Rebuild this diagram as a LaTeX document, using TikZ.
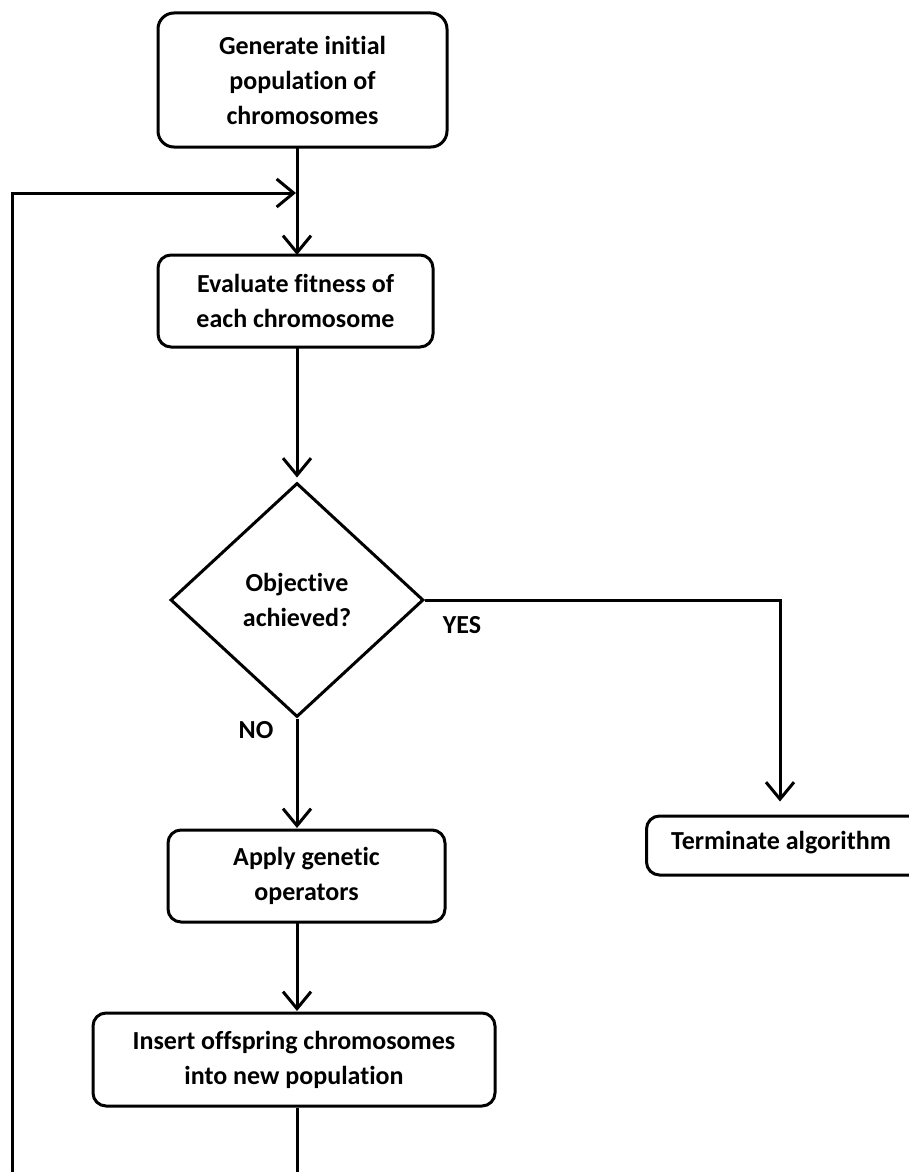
\documentclass[tikz,border=0pt]{standalone}
\usepackage{fontspec}
\setmainfont{Carlito}[Ligatures=NoCommon]
\usetikzlibrary{arrows.meta,shapes.geometric}
\tikzset{
  stepbox/.style={draw, line width=3pt, rounded corners=13pt, inner sep=0pt,
    align=center, font=\bfseries\fontsize{26}{35}\selectfont},
  decbox/.style={draw, diamond, line width=3pt, inner sep=0pt, align=center,
    font=\bfseries\fontsize{26}{35}\selectfont},
  lbl/.style={font=\bfseries\fontsize{26}{35}\selectfont, inner sep=0pt},
  conn/.style={line width=3pt, -{Straight Barb[length=17pt,width=28pt,line width=3pt]}},
  plain/.style={line width=3pt},
}
\begin{document}
\begin{tikzpicture}[x=1pt,y=-1pt]
\clip (0,0) rectangle (909,1172);
\fill[white] (0,0) rectangle (909,1172);
\node[stepbox, minimum width=289pt, minimum height=134pt, rounded corners=16pt] (b1) at (302.5,80) {Generate initial\\population of\\chromosomes};
\node[stepbox, minimum width=275pt, minimum height=92pt] (b2) at (295.5,301) {Evaluate fitness of\\each chromosome};
\node[decbox, minimum width=253pt, minimum height=234pt] (d) at (297,600) {Objective\\achieved?};
\node[stepbox, minimum width=277pt, minimum height=92pt] (b3) at (306.5,876) {Apply genetic\\operators};
\node[stepbox, minimum width=402pt, minimum height=93pt] (b4) at (294,1059.5) {Insert offspring chromosomes\\into new population};
\node[stepbox, minimum width=280pt, minimum height=59pt, anchor=west] (t) at (645,845.5) {};
\node[lbl] (tt) at (781,843) {Terminate algorithm};
\node[lbl] (yes) at (462,625) {YES};
\node[lbl] (no) at (256,730) {NO};
\coordinate (loopin) at (296,193);
\coordinate (loopcorner) at (12,193);
\coordinate (loopbot) at (12,1180);
\coordinate (b4bot) at (297,1180);
\coordinate (yescorner) at (780,600);
\coordinate (b1out) at (297,147);
\coordinate (b2in) at (297,255);
\coordinate (b2out) at (297,347);
\coordinate (b3in) at (297,830);
\coordinate (b3out) at (297,922);
\coordinate (b4in) at (297,1013);
\draw[conn] (b1out) -- (b2in);
\draw[conn] (loopbot) -- (loopcorner) -- (loopin);
\draw[conn, shorten >=4pt] (b2out) -- (d.north);
\draw[conn] (d.east) -- (yescorner) -- ([yshift=13pt]yescorner |- t.north);
\draw[conn, shorten >=2pt] (d.south) -- (b3in);
\draw[conn, shorten >=2pt] (b3out) -- (b4in);
\draw[plain] (b4bot |- b4.south) -- (b4bot);
\end{tikzpicture}
\end{document}
